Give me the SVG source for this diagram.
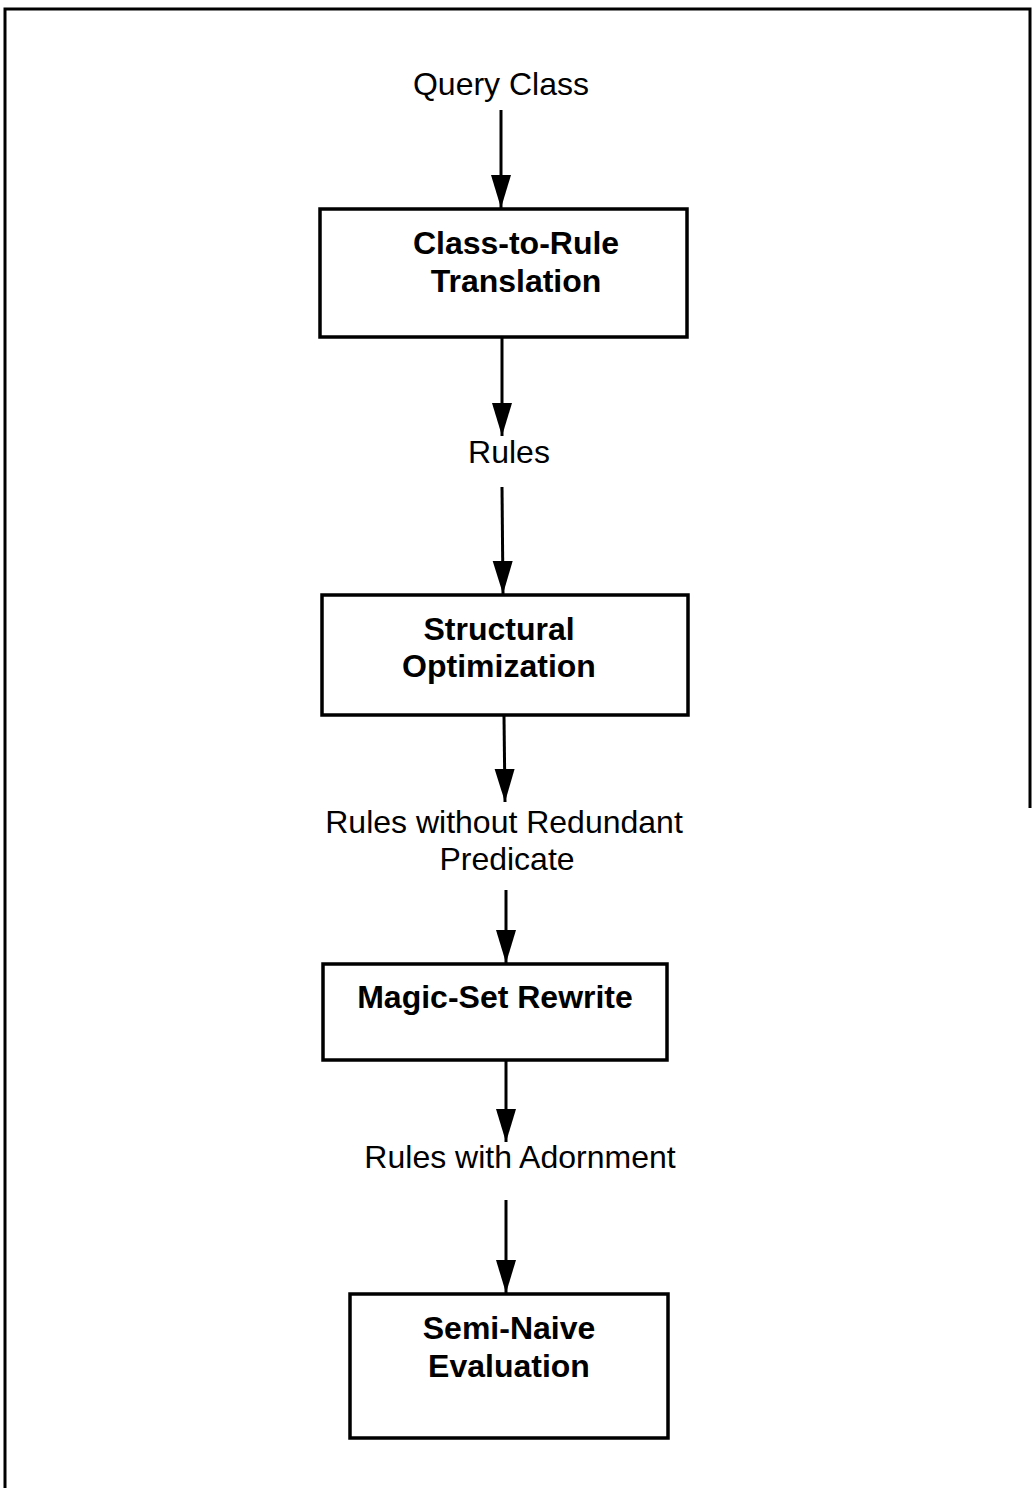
<svg xmlns="http://www.w3.org/2000/svg" width="1032" height="1488" viewBox="0 0 1032 1488">
  <style>
    .box { fill: #ffffff; stroke: #000000; stroke-width: 3.5; }
    .title { font-family: "Liberation Sans", Arial, sans-serif; font-size: 32px; font-weight: bold; fill: #000000; text-anchor: middle; }
    .label { font-family: "Liberation Sans", Arial, sans-serif; font-size: 32px; fill: #000000; text-anchor: middle; }
    .edge { stroke: #000000; stroke-width: 3; fill: none; marker-end: url(#head); }
    .frame { stroke: #000000; stroke-width: 3; fill: none; }
  </style>
  <defs>
    <marker id="head" markerUnits="userSpaceOnUse" markerWidth="34" markerHeight="22" refX="33" refY="11" orient="auto">
      <path d="M0,1 L33,11 L0,21 Z" fill="#000000"/>
    </marker>
  </defs>

  <rect width="1032" height="1488" fill="#ffffff"/>

  <!-- page frame -->
  <path class="frame" d="M5,1488 L5,9 L1030,9 L1030,808"/>

  <!-- flow labels between stages -->
  <g id="label-query-class">
    <text class="label" x="501" y="95">Query Class</text>
  </g>
  <g id="label-rules">
    <text class="label" x="509" y="463">Rules</text>
  </g>
  <g id="label-rules-without-redundant">
    <text class="label" x="504" y="833">Rules without Redundant</text>
    <text class="label" x="507" y="870">Predicate</text>
  </g>
  <g id="label-rules-with-adornment">
    <text class="label" x="520" y="1168">Rules with Adornment</text>
  </g>

  <!-- processing stages -->
  <g id="class-to-rule">
    <rect class="box" x="320" y="209" width="367" height="128"/>
    <text class="title" x="516" y="254">Class-to-Rule</text>
    <text class="title" x="516" y="292">Translation</text>
  </g>
  <g id="structural-optimization">
    <rect class="box" x="322" y="595" width="366" height="120"/>
    <text class="title" x="499" y="640">Structural</text>
    <text class="title" x="499" y="677">Optimization</text>
  </g>
  <g id="magic-set-rewrite">
    <rect class="box" x="323" y="964" width="344" height="96"/>
    <text class="title" x="495" y="1008">Magic-Set Rewrite</text>
  </g>
  <g id="semi-naive-evaluation">
    <rect class="box" x="350" y="1294" width="318" height="144"/>
    <text class="title" x="509" y="1339">Semi-Naive</text>
    <text class="title" x="509" y="1377">Evaluation</text>
  </g>

  <!-- connectors -->
  <g id="connectors">
    <line class="edge" x1="501" y1="110" x2="501" y2="208"/>
    <line class="edge" x1="502" y1="338" x2="502" y2="436"/>
    <line class="edge" x1="502" y1="487" x2="503" y2="594"/>
    <line class="edge" x1="504" y1="716" x2="505" y2="802"/>
    <line class="edge" x1="506" y1="890" x2="506" y2="963"/>
    <line class="edge" x1="506" y1="1061" x2="506" y2="1142"/>
    <line class="edge" x1="506" y1="1200" x2="506" y2="1293"/>
  </g>
</svg>
